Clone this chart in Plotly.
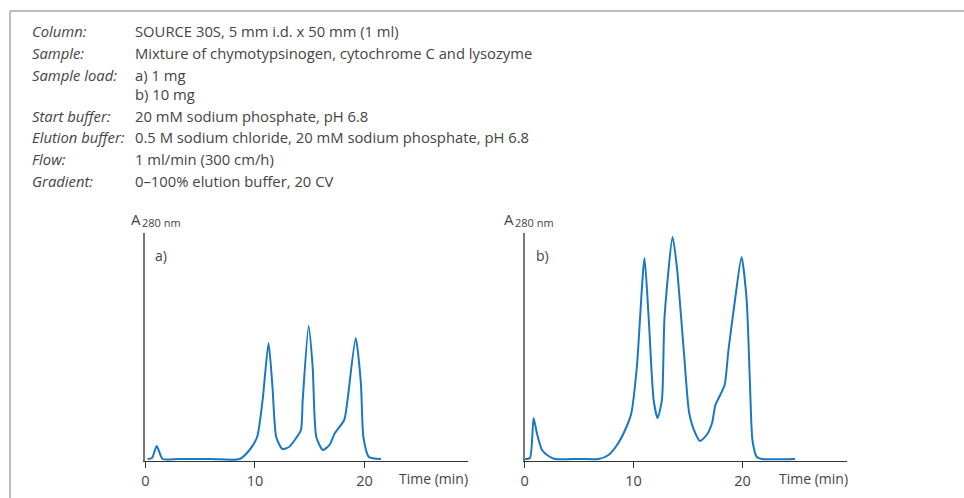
import plotly.graph_objects as go

# ---- data (time in min, absorbance in arbitrary units) ----
time_a = [0.2, 0.6, 1.03, 1.57, 3.0, 6.0, 8.6, 9.5, 10.2, 10.7, 11.24, 11.6, 11.94, 12.5, 13.1, 13.7,
          14.2, 14.36, 14.9, 15.27, 15.6, 16.2, 16.8, 17.3, 18.15, 18.45, 19.2, 19.67, 19.9, 20.4, 21.5]
abs_a = [2, 3, 15, 2, 2, 2, 2, 11, 24, 61, 118, 74, 24, 12, 14, 22,
         31, 61, 135, 94, 24, 11, 16, 28, 41, 61, 123, 78, 24, 4, 2]

time_b = [0.05, 0.5, 0.83, 1.13, 1.6, 2.2, 2.8, 5.0, 6.8, 7.7, 8.6, 9.5, 9.8, 10.3, 11.0, 11.38, 11.84,
          12.2, 12.6, 12.84, 13.58, 13.97, 14.6, 15.1, 15.65, 16.1, 16.7, 17.2, 17.5, 17.85, 18.35,
          18.7, 19.3, 19.9, 20.37, 20.67, 20.9, 21.3, 21.8, 24.8]
abs_b = [2, 3, 43, 28, 11, 5, 2, 2, 2, 6, 18, 38, 48, 94, 203, 144, 61,
         43, 61, 144, 224, 194, 111, 48, 28, 20, 26, 38, 56, 64, 76,
         111, 161, 204, 161, 78, 21, 4, 2, 2]

x_ticks = [0, 10, 20]
header_labels = ["Column:", "Sample:", "Sample load:", "", "Start buffer:", "Elution buffer:", "Flow:", "Gradient:"]
header_values = ["SOURCE 30S, 5 mm i.d. x 50 mm (1 ml)",
                 "Mixture of chymotypsinogen, cytochrome C and lysozyme",
                 "a) 1 mg", "b) 10 mg",
                 "20 mM sodium phosphate, pH 6.8",
                 "0.5 M sodium chloride, 20 mM sodium phosphate, pH 6.8",
                 "1 ml/min (300 cm/h)",
                 "0–100% elution buffer, 20 CV"]

W, H = 964, 498
FONT = "Open Sans"
TXT = "#444444"
BLUE = "#1a78c2"

def px(x):
    return x / W

def py(y):
    return 1 - y / H

fig = go.Figure()
fig.add_trace(go.Scatter(x=time_a, y=abs_a, mode="lines", line=dict(color=BLUE, width=2, shape="spline", smoothing=0.6),
                         xaxis="x", yaxis="y", showlegend=False))
fig.add_trace(go.Scatter(x=time_b, y=abs_b, mode="lines", line=dict(color=BLUE, width=2, shape="spline", smoothing=0.6),
                         xaxis="x2", yaxis="y2", showlegend=False))

xax = dict(showgrid=False, zeroline=False, showline=True, linecolor="#333333", linewidth=1.3,
           ticks="outside", ticklen=6, tickcolor="#333333", tickvals=x_ticks,
           tickfont=dict(family=FONT, size=14.5, color=TXT), fixedrange=True)
yax = dict(showgrid=False, zeroline=False, showline=True, linecolor="#777777", linewidth=1.6,
           showticklabels=False, ticks="", range=[0, 228], fixedrange=True)

ybot, ytop = py(461), py(233)
fig.update_layout(
    width=W, height=H, margin=dict(l=0, r=0, t=0, b=0),
    paper_bgcolor="white", plot_bgcolor="white",
    xaxis=dict(xax, domain=[px(142), px(466)], range=[0, 324 / 11.0], anchor="y"),
    yaxis=dict(yax, domain=[ybot, ytop], anchor="x"),
    xaxis2=dict(xax, domain=[px(522.7), px(847)], range=[0, 324.3 / 10.95], anchor="y2"),
    yaxis2=dict(yax, domain=[ybot, ytop], anchor="x2"),
)

# frame
fig.add_shape(type="line", xref="paper", yref="paper", x0=px(6), x1=1, y0=py(11), y1=py(11),
              line=dict(color="#bbbbbb", width=2))
fig.add_shape(type="line", xref="paper", yref="paper", x0=px(6), x1=px(6), y0=py(11), y1=0,
              line=dict(color="#bbbbbb", width=2))

def note(x, y, text, size):
    fig.add_annotation(x=px(x), y=py(y), xref="paper", yref="paper", text=text,
                       showarrow=False, xanchor="left", yanchor="middle", borderpad=0,
                       font=dict(family=FONT, size=size, color=TXT))

# header
row_y = [31, 53, 75, 94, 116, 137, 159, 181]
for lab, val, yy in zip(header_labels, header_values, row_y):
    if lab:
        note(27, yy, "<i>" + lab + "</i>", 14.8)
    note(131, yy, val, 14.8)

# axis labels and panel labels
for ax_x, pl_x, lab, tx in [(127, 151, "a)", 396), (501, 533, "b)", 777)]:
    note(ax_x, 219, "A", 15)
    note(ax_x + 11, 222, "280 nm", 11)
    note(pl_x, 256, lab, 14)
    note(tx, 478, "Time (min)", 14)

fig.write_html("out.html")
